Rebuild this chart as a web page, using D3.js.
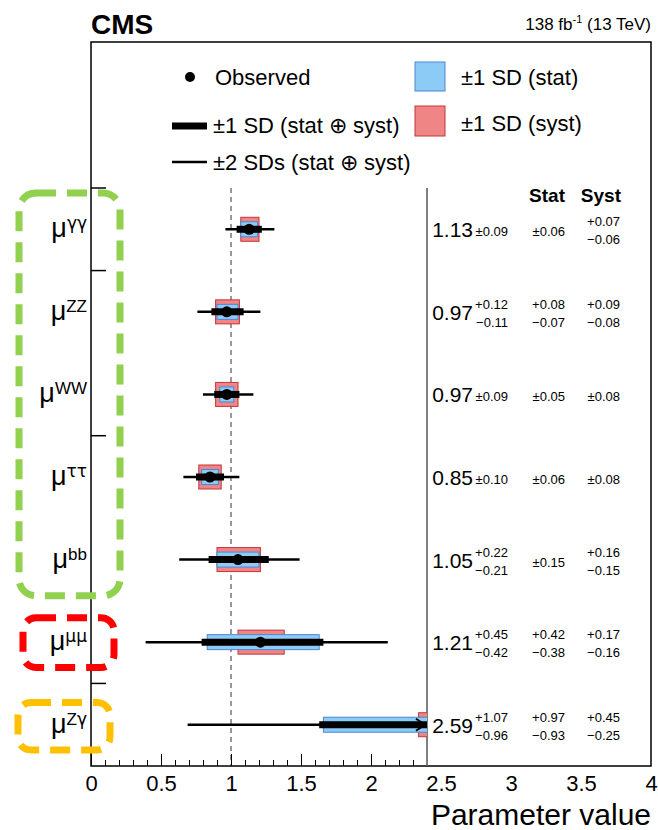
<!DOCTYPE html>
<meta charset="utf-8">
<script src="https://d3js.org/d3.v7.min.js"></script>
<style>
  body { margin: 0; background: #fff; }
  text { font-family: "Liberation Sans", Arial, sans-serif; }
</style>
<div id="plot_div"></div>
<script>
    // channels, top to bottom
    var channels = ["γγ", "ZZ", "WW", "ττ", "bb", "μμ", "Zγ"];
    var mu = [1.13, 0.97, 0.97, 0.85, 1.05, 1.21, 2.59];
    var totUp = [0.09, 0.12, 0.09, 0.10, 0.22, 0.45, 1.07];
    var totDn = [0.09, 0.11, 0.09, 0.10, 0.21, 0.42, 0.96];
    var statUp = [0.06, 0.08, 0.05, 0.06, 0.15, 0.42, 0.97];
    var statDn = [0.06, 0.07, 0.05, 0.06, 0.15, 0.38, 0.93];
    var systUp = [0.07, 0.09, 0.08, 0.08, 0.16, 0.17, 0.45];
    var systDn = [0.06, 0.08, 0.08, 0.08, 0.15, 0.16, 0.25];
    // +-2 SD interval
    var lo2 = [0.96, 0.76, 0.80, 0.66, 0.63, 0.39, 0.69];
    var hi2 = [1.31, 1.21, 1.16, 1.06, 1.49, 2.12, 4.70];
    var xTickLabels = [0, 0.5, 1, 1.5, 2, 2.5, 3, 3.5, 4];
    // separators drawn on the left axis (index of row boundary)
    var yTickRows = [0, 1, 3, 6];
    // highlight boxes around the labels
    var groups = [
        { name: "bosons+fermions", rows: [0, 4], color: "#92d050" },
        { name: "muons", rows: [5, 5], color: "#ff0000" },
        { name: "Zgamma", rows: [6, 6], color: "#ffc000" }
    ];

    var W = 658, H = 830;
    var margin = { left: 91, right: 7, top: 42, bottom: 64 };
    var plotTop = 188, xMaxShown = 2.4;

    var svg = d3.select("#plot_div").append("svg")
        .attr("width", W).attr("height", H);

    var x = d3.scaleLinear().domain([0, 4]).range([margin.left, W - margin.right]);
    var y = d3.scaleBand().domain(channels).range([plotTop, H - margin.bottom]);
    var yc = function (i) { return y(channels[i]) + y.bandwidth() / 2; };

    var blueFill = "#8ccbf6", blueLine = "#4d86d3";
    var redFill = "#f08585", redLine = "#c4343a";

    // frame
    svg.append("rect")
        .attr("x", margin.left).attr("y", margin.top)
        .attr("width", x(4) - margin.left).attr("height", H - margin.bottom - margin.top)
        .attr("fill", "none").attr("stroke", "#000").attr("stroke-width", 1.5);

    // header texts
    svg.append("text").attr("x", margin.left).attr("y", 34)
        .attr("font-size", 28).attr("font-weight", "bold").text("CMS");
    var lumi = svg.append("text").attr("x", x(4)).attr("y", 30)
        .attr("text-anchor", "end").attr("font-size", 17);
    lumi.append("tspan").text("138 fb");
    lumi.append("tspan").attr("dy", -7).attr("font-size", 11).text("-1");
    lumi.append("tspan").attr("dy", 7).text(" (13 TeV)");

    // legend
    var leg = svg.append("g").attr("font-size", 22);
    leg.append("circle").attr("cx", 190).attr("cy", 77).attr("r", 5);
    leg.append("text").attr("x", 215).attr("y", 85).text("Observed");
    leg.append("line").attr("x1", 172).attr("x2", 207).attr("y1", 126).attr("y2", 126)
        .attr("stroke", "#000").attr("stroke-width", 7);
    leg.append("text").attr("x", 213).attr("y", 133).text("±1 SD (stat ⊕ syst)");
    leg.append("line").attr("x1", 172).attr("x2", 207).attr("y1", 162).attr("y2", 162)
        .attr("stroke", "#000").attr("stroke-width", 2.5);
    leg.append("text").attr("x", 213).attr("y", 170).text("±2 SDs (stat ⊕ syst)");
    leg.append("rect").attr("x", 415).attr("y", 62).attr("width", 30).attr("height", 29)
        .attr("fill", blueFill).attr("stroke", blueLine);
    leg.append("text").attr("x", 461).attr("y", 85).text("±1 SD (stat)");
    leg.append("rect").attr("x", 415).attr("y", 106).attr("width", 30).attr("height", 30)
        .attr("fill", redFill).attr("stroke", redLine);
    leg.append("text").attr("x", 461).attr("y", 131).text("±1 SD (syst)");

    // reference line at 1 and separator at the end of the shown range
    svg.append("line").attr("x1", x(1)).attr("x2", x(1))
        .attr("y1", plotTop).attr("y2", H - margin.bottom)
        .attr("stroke", "#333").attr("stroke-dasharray", "5,4");
    svg.append("line").attr("x1", x(xMaxShown)).attr("x2", x(xMaxShown))
        .attr("y1", plotTop).attr("y2", H - margin.bottom)
        .attr("stroke", "#555").attr("stroke-width", 1.5);

    // x axis: ticks only over the drawn range, labels to 4
    var axisY = H - margin.bottom;
    var minor = d3.range(0, 24).map(function (d) { return d / 10; });
    svg.append("g").attr("transform", "translate(0," + axisY + ")")
        .call(d3.axisBottom(x).tickValues(minor).tickSize(-6).tickFormat(""))
        .call(function (g) { g.select(".domain").remove(); });
    svg.append("g").attr("transform", "translate(0," + axisY + ")")
        .call(d3.axisBottom(x).tickValues([0, 0.5, 1, 1.5, 2]).tickSize(-12).tickFormat(""))
        .call(function (g) { g.select(".domain").remove(); });
    var xl = svg.append("g").attr("transform", "translate(0," + axisY + ")")
        .call(d3.axisBottom(x).tickValues(xTickLabels).tickSize(0).tickPadding(9)
            .tickFormat(d3.format("~g")));
    xl.select(".domain").remove();
    xl.selectAll("text").attr("font-size", 22).attr("font-family", "Liberation Sans, Arial, sans-serif")
        .attr("fill", "#000");
    svg.append("text").attr("x", x(4)).attr("y", 825).attr("text-anchor", "end")
        .attr("font-size", 30).text("Parameter value");

    // left axis separators
    svg.selectAll(".ytick").data(yTickRows).enter().append("line")
        .attr("x1", margin.left).attr("x2", margin.left + 15)
        .attr("y1", function (d) { return y(channels[d]); })
        .attr("y2", function (d) { return y(channels[d]); })
        .attr("stroke", "#000").attr("stroke-width", 1.5);

    // row labels, greek letters in DejaVu
    channels.forEach(function (c, i) {
        var t = svg.append("text").attr("x", 87).attr("y", yc(i) + 8)
            .attr("text-anchor", "end").attr("font-size", 27).attr("font-family", "DejaVu Sans, sans-serif");
        t.append("tspan").text("μ");
        c.split("").forEach(function (ch, k) {
            var greek = /[\u0370-\u03ff]/.test(ch);
            var s = t.append("tspan").attr("font-size", 17)
                .attr("font-family", greek ? "DejaVu Sans, sans-serif" : "Liberation Sans, sans-serif")
                .text(ch);
            if (k === 0) s.attr("dy", -8);
        });
    });

    // highlight boxes
    groups.forEach(function (g) {
        var y0 = y(channels[g.rows[0]]), y1 = y(channels[g.rows[1]]) + y.bandwidth();
        var b = g.name === "bosons+fermions" ? [19, y0 + 5, 120, y1 - 5, 17]
            : g.name === "muons" ? [23, y0 + 17, 114, y1 - 16, 13] : [18, y0 + 19, 110, y1 - 16, 13];
        svg.append("rect").attr("x", b[0]).attr("y", b[1])
            .attr("width", b[2] - b[0]).attr("height", b[3] - b[1]).attr("rx", b[4])
            .attr("fill", "none").attr("stroke", g.color).attr("stroke-width", 7)
            .attr("stroke-dasharray", "20,11");
    });

    // data marks, clipped at the separator
    svg.append("clipPath").attr("id", "clip").append("rect")
        .attr("x", margin.left).attr("y", plotTop).attr("width", x(xMaxShown) - margin.left)
        .attr("height", H - margin.bottom - plotTop);
    var marks = svg.append("g").attr("clip-path", "url(#clip)");
    var idx = d3.range(channels.length);

    marks.selectAll(".syst").data(idx).enter().append("rect")
        .attr("x", function (i) { return x(mu[i] - systDn[i]); })
        .attr("width", function (i) { return x(mu[i] + systUp[i]) - x(mu[i] - systDn[i]); })
        .attr("y", function (i) { return yc(i) - 12; }).attr("height", 24)
        .attr("fill", redFill).attr("stroke", redLine);
    marks.selectAll(".stat").data(idx).enter().append("rect")
        .attr("x", function (i) { return x(mu[i] - statDn[i]); })
        .attr("width", function (i) { return x(mu[i] + statUp[i]) - x(mu[i] - statDn[i]); })
        .attr("y", function (i) { return yc(i) - 7.5; }).attr("height", 15)
        .attr("fill", blueFill).attr("stroke", blueLine);
    marks.selectAll(".two").data(idx).enter().append("line")
        .attr("x1", function (i) { return x(lo2[i]); }).attr("x2", function (i) { return x(hi2[i]); })
        .attr("y1", yc).attr("y2", yc).attr("stroke", "#000").attr("stroke-width", 2.5);
    marks.selectAll(".one").data(idx).enter().append("line")
        .attr("x1", function (i) { return x(mu[i] - totDn[i]); })
        .attr("x2", function (i) { return x(mu[i] + totUp[i]); })
        .attr("y1", yc).attr("y2", yc).attr("stroke", "#000").attr("stroke-width", 7);
    marks.selectAll(".obs").data(idx).enter().append("circle")
        .attr("cx", function (i) { return x(mu[i]); }).attr("cy", yc).attr("r", 5.5);
    // arrow where the value is out of range
    idx.filter(function (i) { return mu[i] > xMaxShown; }).forEach(function (i) {
        var xe = x(xMaxShown) - 2, c = yc(i);
        svg.append("polyline")
            .attr("points", [[xe - 9, c - 6], [xe, c], [xe - 9, c + 6]].join(" "))
            .attr("fill", "none").attr("stroke", "#000").attr("stroke-width", 2);
    });

    // numbers on the right
    var fmt = function (v) { return v.toFixed(2); };
    var errs = function (g, xr, up, dn, c, size) {
        if (up === dn) {
            g.append("text").attr("x", xr).attr("y", c + 7).attr("text-anchor", "end")
                .attr("font-size", size).text("±" + fmt(up));
        } else {
            g.append("text").attr("x", xr).attr("y", c - 3).attr("text-anchor", "end")
                .attr("font-size", size).text("+" + fmt(up));
            g.append("text").attr("x", xr).attr("y", c + 15).attr("text-anchor", "end")
                .attr("font-size", size).text("\u2212" + fmt(dn));
        }
    };
    var tab = svg.append("g").attr("fill", "#000");
    tab.append("text").attr("x", 565).attr("y", 202).attr("text-anchor", "end")
        .attr("font-size", 19).attr("font-weight", "bold").text("Stat");
    tab.append("text").attr("x", 621).attr("y", 202).attr("text-anchor", "end")
        .attr("font-size", 19).attr("font-weight", "bold").text("Syst");
    idx.forEach(function (i) {
        var c = yc(i);
        tab.append("text").attr("x", 473).attr("y", c + 8).attr("text-anchor", "end")
            .attr("font-size", 21).text(fmt(mu[i]));
        errs(tab, 508, totUp[i], totDn[i], c, 13);
        errs(tab, 565, statUp[i], statDn[i], c, 13);
        errs(tab, 620, systUp[i], systDn[i], c, 13);
    });
</script>
